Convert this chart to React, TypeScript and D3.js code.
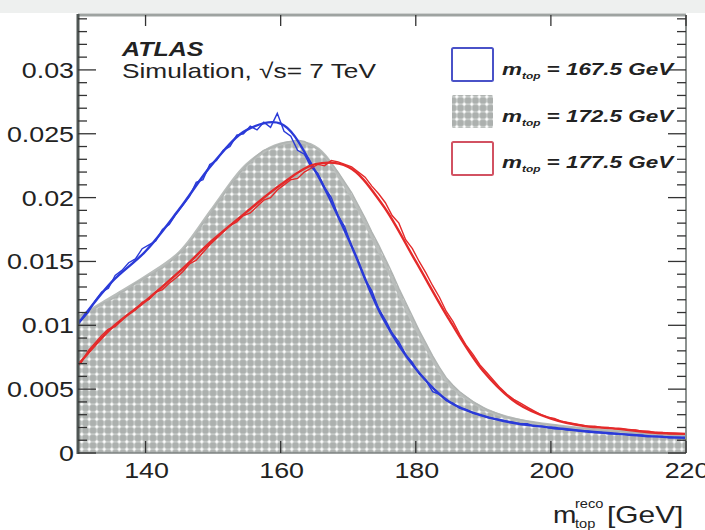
import React from "react";
import * as d3 from "d3";

// ---------- data ----------
const binLow = 130;
const binWidth = 1;
// histogram contents (normalised), 1 GeV bins from 130 to 220
const hist1675 = [
  0.0104, 0.011, 0.0119, 0.0126, 0.0129, 0.0139, 0.0143, 0.0149, 0.0152, 0.016,
  0.0163, 0.0166, 0.0175, 0.0179, 0.0187, 0.0194, 0.0201, 0.0212, 0.0214, 0.0226,
  0.0229, 0.0237, 0.024, 0.0249, 0.025, 0.0256, 0.0253, 0.0259, 0.0255, 0.0266,
  0.0252, 0.0248, 0.0237, 0.0234, 0.0224, 0.0219, 0.0208, 0.02, 0.0186, 0.0177,
  0.0162, 0.015, 0.0136, 0.0127, 0.0113, 0.0104, 0.0094, 0.0087, 0.0077, 0.0071,
  0.0062, 0.0057, 0.0048, 0.0046, 0.0041, 0.0039, 0.0035, 0.0034, 0.0031, 0.003,
  0.0028, 0.0027, 0.0026, 0.0025, 0.0024, 0.0023, 0.0023, 0.0021, 0.0021, 0.002,
  0.0019, 0.0019, 0.0018, 0.0018, 0.0017, 0.0017, 0.0016, 0.0016, 0.0015, 0.0015,
  0.0015, 0.0014, 0.0014, 0.0014, 0.0013, 0.0013, 0.0013, 0.0012, 0.0012, 0.0012,
];
const hist1725 = [
  0.0108, 0.0111, 0.0113, 0.0117, 0.0119, 0.0122, 0.0126, 0.0129, 0.0133, 0.0136,
  0.0139, 0.0142, 0.0145, 0.0149, 0.0154, 0.0159, 0.0165, 0.0172, 0.018, 0.0187,
  0.0195, 0.0202, 0.021, 0.0216, 0.0223, 0.0228, 0.0233, 0.0237, 0.0239, 0.0241,
  0.0243, 0.0244, 0.0245, 0.0244, 0.0241, 0.0238, 0.0233, 0.0227, 0.022, 0.0212,
  0.0204, 0.0194, 0.0184, 0.0173, 0.0163, 0.0152, 0.0141, 0.0129, 0.0118, 0.0107,
  0.0096, 0.0086, 0.0076, 0.0067, 0.0059, 0.0053, 0.0048, 0.0044, 0.004, 0.0037,
  0.0034, 0.0032, 0.003, 0.0028, 0.0027, 0.0026, 0.0025, 0.0024, 0.0023, 0.0022,
  0.0022, 0.0021, 0.002, 0.002, 0.0019, 0.0019, 0.0018, 0.0018, 0.0017, 0.0017,
  0.0017, 0.0016, 0.0016, 0.0015, 0.0015, 0.0015, 0.0014, 0.0014, 0.0014, 0.0014,
];
const hist1775 = [
  0.0071, 0.008, 0.0086, 0.0092, 0.0097, 0.0099, 0.0104, 0.0109, 0.0112, 0.0118,
  0.012, 0.0126, 0.0128, 0.0133, 0.0137, 0.0142, 0.0148, 0.0151, 0.0157, 0.0163,
  0.0168, 0.0173, 0.0178, 0.0181, 0.0186, 0.0188, 0.0193, 0.0198, 0.02, 0.0206,
  0.021, 0.0214, 0.0215, 0.022, 0.0223, 0.0226, 0.0225, 0.0229, 0.0228, 0.0226,
  0.0224, 0.022, 0.0216, 0.0209, 0.0203, 0.0196, 0.0186, 0.018, 0.0167, 0.016,
  0.015, 0.0141, 0.0131, 0.0122, 0.0111, 0.0103, 0.0093, 0.0084, 0.0077, 0.0069,
  0.0063, 0.0057, 0.0051, 0.0046, 0.0042, 0.0039, 0.0036, 0.0033, 0.003, 0.0028,
  0.0027, 0.0025, 0.0024, 0.0023, 0.0022, 0.0021, 0.0021, 0.002, 0.002, 0.0019,
  0.0019, 0.0018, 0.0018, 0.0017, 0.0017, 0.0016, 0.0016, 0.0015, 0.0015, 0.0015,
];
// smooth template fits
const fitMass = [130, 135, 140, 145, 150, 155, 160, 165, 170, 175, 180, 185, 190, 195, 200, 205, 210, 215, 220];
const fit1675 = [0.0101, 0.0134, 0.0158, 0.0191, 0.0227, 0.0253, 0.0258, 0.0222, 0.0168, 0.0107, 0.0066, 0.004, 0.0029, 0.0023, 0.002, 0.0017, 0.0015, 0.0013, 0.0012];
const fit1725 = [0.0106, 0.0122, 0.0138, 0.0157, 0.0192, 0.0226, 0.0242, 0.024, 0.0205, 0.0153, 0.0098, 0.0054, 0.0035, 0.0026, 0.0022, 0.0019, 0.0017, 0.0015, 0.0014];
const fit1775 = [0.0069, 0.0098, 0.0119, 0.0142, 0.0167, 0.0189, 0.021, 0.0226, 0.0224, 0.0195, 0.015, 0.0104, 0.0064, 0.0039, 0.0027, 0.0021, 0.0019, 0.0016, 0.0015];

const xTicks = [140, 160, 180, 200, 220];
const yTicks = [0, 0.005, 0.01, 0.015, 0.02, 0.025, 0.03];
const yTickLabels = ["0", "0.005", "0.01", "0.015", "0.02", "0.025", "0.03"];
const legendLabels = ["167.5", "172.5", "177.5"];

// ---------- layout ----------
const W = 705;
const H = 530;
const L = 78, R = 686, T = 15, B = 453;
const SX = 1.22;
const FONT = "'Liberation Sans', Arial, Helvetica, sans-serif";

const x = d3.scaleLinear().domain([130, 220]).range([L, R]);
const y = d3.scaleLinear().domain([0, 0.0343]).range([B, T]);

const BLUE = "#2a3ad8";
const RED = "#e42a2a";

function centerPoints(vals: number[]): [number, number][] {
  const pts: [number, number][] = [[binLow, vals[0]]];
  vals.forEach((v, i) => pts.push([binLow + (i + 0.5) * binWidth, v]));
  pts.push([binLow + vals.length * binWidth, vals[vals.length - 1]]);
  return pts;
}

const histLine = d3
  .line<[number, number]>()
  .x((d) => x(d[0]))
  .y((d) => y(d[1]));
const histArea = d3
  .area<[number, number]>()
  .x((d) => x(d[0]))
  .y0(B)
  .y1((d) => y(d[1]));
const fitLine = d3
  .line<number>()
  .x((_, i) => x(fitMass[i]))
  .y((d) => y(d))
  .curve(d3.curveCatmullRom.alpha(0.5));

function Txt(props: {
  x: number; y: number; size: number; anchor?: string; weight?: string; italic?: boolean;
  sx?: number; fill?: string; children: React.ReactNode;
}) {
  const s = props.sx ?? SX;
  return (
    <text
      transform={`translate(${props.x},${props.y}) scale(${s},1)`}
      fontSize={props.size}
      fontFamily={FONT}
      fontWeight={props.weight ?? "normal"}
      fontStyle={props.italic ? "italic" : "normal"}
      textAnchor={props.anchor ?? "start"}
      fill={props.fill ?? "#222"}
    >
      {props.children}
    </text>
  );
}

export default function App() {
  const minorY = d3.range(0, 0.0341, 0.001);
  const legendY = [48, 95, 142];
  const legendBase = [75, 122, 168];
  return (
    <div style={{ position: "absolute", left: 0, top: 0 }}>
      <svg width={W} height={H} style={{ display: "block", background: "#fff" }}>
        <defs>
          <pattern id="dots" width={7.5} height={7.5} patternUnits="userSpaceOnUse" x={L} y={B}>
            <rect width={7.5} height={7.5} fill="#acb0ae" />
            <line x1={0} x2={7.5} y1={3.75} y2={3.75} stroke="#d6d9d7" strokeWidth={1.1} />
            <line x1={3.75} x2={3.75} y1={0} y2={7.5} stroke="#d6d9d7" strokeWidth={1.1} />
            <circle cx={3.75} cy={3.75} r={1.6} fill="#ffffff" />
          </pattern>
          <clipPath id="plot">
            <rect x={L} y={T} width={R - L} height={B - T} />
          </clipPath>
        </defs>
        <rect x={0} y={0} width={W} height={13} fill="#eef0ef" />

        <g clipPath="url(#plot)">
          <path d={histArea(centerPoints(hist1725)) ?? ""} fill="url(#dots)" />
          <path d={fitLine(fit1725) ?? ""} fill="none" stroke="#b9bdbb" strokeWidth={3} />
          <path d={histLine(centerPoints(hist1725)) ?? ""} fill="none" stroke="#b0b4b2" strokeWidth={1.4} />
          <path d={histLine(centerPoints(hist1675)) ?? ""} fill="none" stroke={BLUE} strokeWidth={1.4} />
          <path d={fitLine(fit1675) ?? ""} fill="none" stroke={BLUE} strokeWidth={2.4} />
          <path d={histLine(centerPoints(hist1775)) ?? ""} fill="none" stroke={RED} strokeWidth={1.4} />
          <path d={fitLine(fit1775) ?? ""} fill="none" stroke={RED} strokeWidth={2.4} />
        </g>

        {/* frame */}
        <line x1={L} x2={R} y1={T} y2={T} stroke="#9ea3a1" strokeWidth={3} />
        <line x1={R} x2={R} y1={T} y2={B} stroke="#8c918f" strokeWidth={2} />
        <line x1={L} x2={R} y1={B} y2={B} stroke="#7c8280" strokeWidth={1.5} />
        <line x1={L} x2={L} y1={T - 1} y2={B + 1} stroke="#4f5654" strokeWidth={3} />

        {/* y ticks */}
        {minorY.map((v, i) => {
          const major = i % 5 === 0;
          const len = major ? 18 : 9;
          return (
            <g key={"yt" + i}>
              <line x1={L} x2={L + len} y1={y(v)} y2={y(v)} stroke="#333" strokeWidth={1.3} />
              <line x1={R} x2={R - len} y1={y(v)} y2={y(v)} stroke="#333" strokeWidth={1.3} />
            </g>
          );
        })}
        {/* x ticks */}
        {xTicks.map((t) => (
          <g key={"xt" + t}>
            <line x1={x(t)} x2={x(t)} y1={B} y2={B - 12} stroke="#333" strokeWidth={1.3} />
            <line x1={x(t)} x2={x(t)} y1={T} y2={T + 11} stroke="#333" strokeWidth={1.3} />
          </g>
        ))}

        {/* tick labels */}
        {yTicks.map((t, i) => (
          <Txt key={"yl" + i} x={74} y={y(t) + 8} size={22} anchor="end">
            {yTickLabels[i]}
          </Txt>
        ))}
        {xTicks.map((t) => (
          <Txt key={"xl" + t} x={x(t) + 1} y={478} size={22} anchor="middle">
            {t}
          </Txt>
        ))}

        {/* axis title */}
        <Txt x={553} y={523} size={23}>m</Txt>
        <Txt x={575} y={508} size={12}>reco</Txt>
        <Txt x={575} y={528} size={12}>top</Txt>
        <Txt x={607} y={523} size={23} sx={1.3}>[GeV]</Txt>

        {/* ATLAS label */}
        <Txt x={122} y={56} size={20} weight="bold" italic sx={1.25}>ATLAS</Txt>
        <Txt x={122} y={78} size={21} sx={1.25}>Simulation, √s= 7 TeV</Txt>

        {/* legend */}
        {legendLabels.map((lab, i) => {
          const stroke = i === 0 ? "#4a52c8" : i === 2 ? "#d25262" : "none";
          return (
            <g key={"lg" + i}>
              <rect
                x={452}
                y={legendY[i]}
                width={41}
                height={33}
                fill={i === 1 ? "url(#dots)" : "#fff"}
                stroke={stroke}
                strokeWidth={2}
                rx={1.5}
              />
              <text
                transform={`translate(502,${legendBase[i]}) scale(1.32,1)`}
                fontFamily={FONT}
                fontWeight="bold"
                fontStyle="italic"
                fontSize={17}
                fill="#222"
              >
                <tspan>m</tspan>
                <tspan fontSize={9} dy={4}>top</tspan>
                <tspan dy={-4}>{` = ${lab} GeV`}</tspan>
              </text>
            </g>
          );
        })}
      </svg>
    </div>
  );
}
